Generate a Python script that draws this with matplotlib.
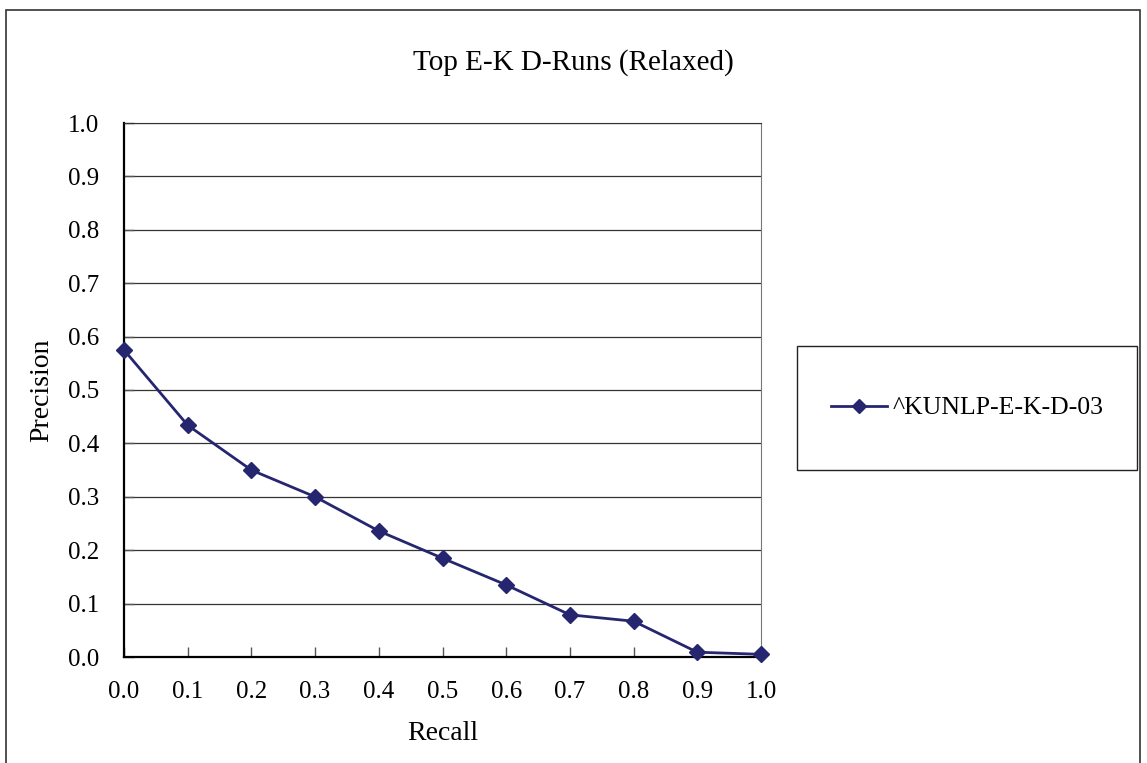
import matplotlib.pyplot as plt
from matplotlib.patches import Rectangle

# Precision / recall values
recall = [0.0, 0.1, 0.2, 0.3, 0.4, 0.5, 0.6, 0.7, 0.8, 0.9, 1.0]
precision = [0.575, 0.434, 0.350, 0.300, 0.236, 0.185, 0.135, 0.079, 0.067, 0.009, 0.005]
series_name = "^KUNLP-E-K-D-03"
tick_labels = ["0.0", "0.1", "0.2", "0.3", "0.4", "0.5", "0.6", "0.7", "0.8", "0.9", "1.0"]

plt.rcParams["font.family"] = ["Liberation Serif", "DejaVu Serif"]
navy = "#262670"

fig = plt.figure(figsize=(11.47, 7.63), dpi=100, facecolor="white")

# Outer chart border
fig.patches.append(Rectangle((6 / 1147, -0.02), (1140 - 6) / 1147, 1.02 - 10 / 763,
                             transform=fig.transFigure, fill=False,
                             edgecolor="#333333", linewidth=1.2))

ax = fig.add_axes([124 / 1147, 1 - 657 / 763, (761 - 124) / 1147, (657 - 123) / 763])
ax.plot(recall, precision, color=navy, linewidth=2.0, marker="D", markersize=8.5,
        markerfacecolor=navy, markeredgecolor=navy, label=series_name, clip_on=False, zorder=3)

ax.set_xlim(0, 1)
ax.set_ylim(0, 1)
ax.set_xticks(recall)
ax.set_xticklabels(tick_labels)
ax.set_yticks([i / 10 for i in range(11)])
ax.set_yticklabels(tick_labels)
ax.yaxis.grid(True, color="#333333", linewidth=0.9)
ax.set_axisbelow(True)
ax.tick_params(axis="both", labelsize=18, direction="in", length=7, width=1.0, color="#555555")
ax.tick_params(axis="x", pad=17)
ax.tick_params(axis="y", pad=18)

for side in ["left", "bottom"]:
    ax.spines[side].set_linewidth(1.6)
    ax.spines[side].set_color("black")
ax.spines["top"].set_color("#333333")
ax.spines["right"].set_color("#777777")

ax.set_xlabel("Recall", fontsize=20, va="center")
ax.xaxis.set_label_coords(0.5, (657 - 733) / 534)
ax.set_ylabel("Precision", fontsize=20, va="center")
ax.yaxis.set_label_coords((42 - 124) / 637, 0.5)
fig.text(0.5, 1 - 63 / 763, "Top E-K D-Runs (Relaxed)", fontsize=21, ha="center", va="center")

# Legend box
lx0, ly0 = 797 / 1147, 1 - 470 / 763
lw, lh = (1137 - 797) / 1147, (470 - 346) / 763
fig.patches.append(Rectangle((lx0, ly0), lw, lh, transform=fig.transFigure,
                             fill=False, edgecolor="#222222", linewidth=1.0))
fig.legend(loc="center", bbox_to_anchor=(lx0 + lw / 2, ly0 + lh / 2), frameon=False,
           fontsize=18.5, handlelength=2.2, handletextpad=0.2, markerscale=0.8)

fig.savefig("out.png", dpi=100, facecolor="white")
